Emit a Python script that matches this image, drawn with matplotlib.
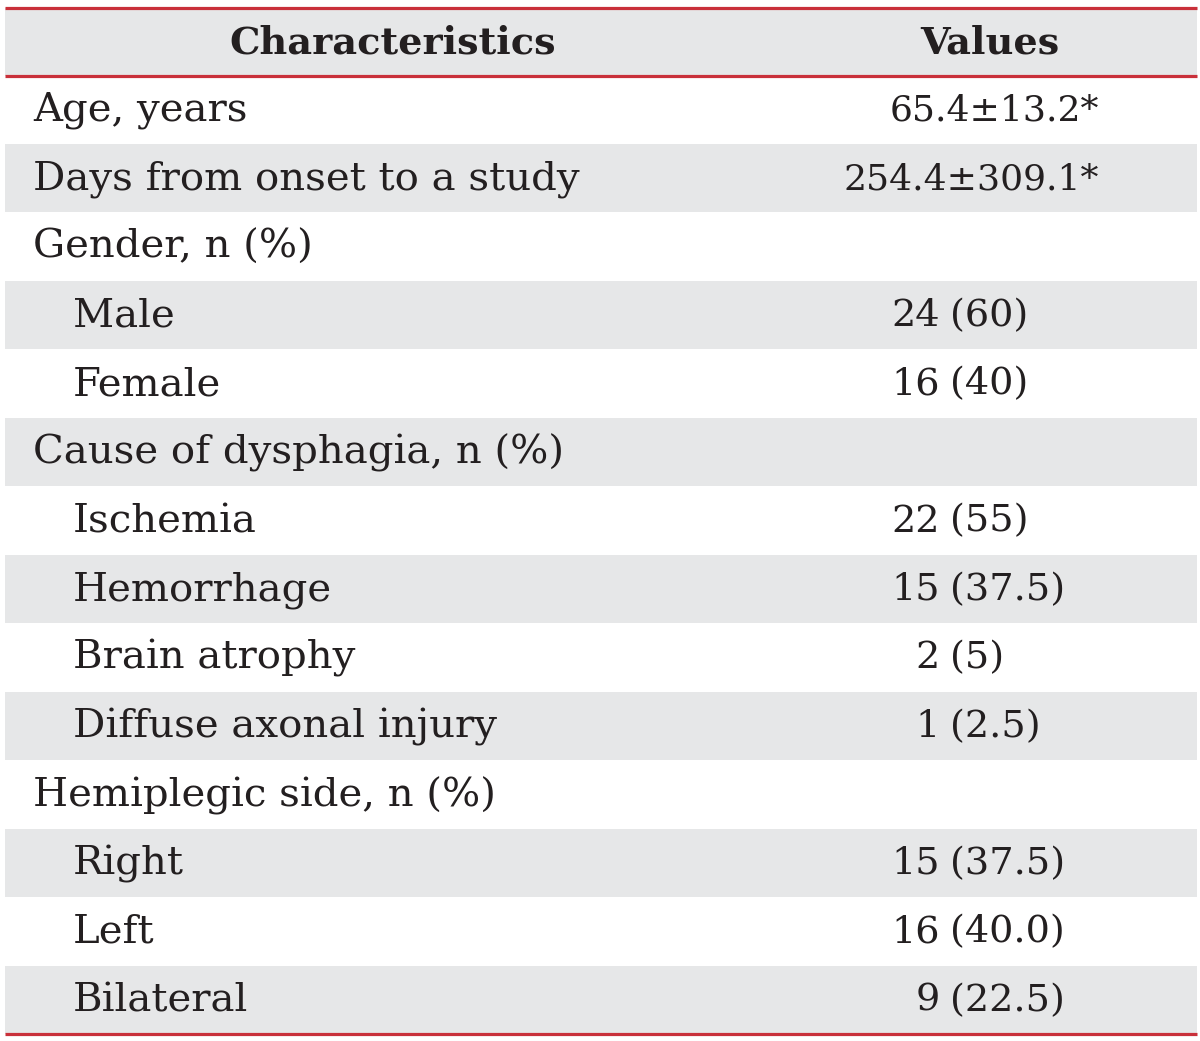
import matplotlib.pyplot as plt
from matplotlib.patches import Rectangle

# table content
headers = ["Characteristics", "Values"]
labels = ["Age, years", "Days from onset to a study", "Gender, n (%)", "Male", "Female",
          "Cause of dysphagia, n (%)", "Ischemia", "Hemorrhage", "Brain atrophy",
          "Diffuse axonal injury", "Hemiplegic side, n (%)", "Right", "Left", "Bilateral"]
indent = [0, 0, 0, 1, 1, 0, 1, 1, 1, 1, 0, 1, 1, 1]
counts = ["65.4±13.2*", "254.4±309.1*", "", "24", "16", "", "22", "15", "2", "1", "", "15", "16", "9"]
percents = ["", "", "", "(60)", "(40)", "", "(55)", "(37.5)", "(5)", "(2.5)", "", "(37.5)", "(40.0)", "(22.5)"]

W, H = 1200, 1041
grey = "#e6e7e8"
red = "#c9303a"
ink = "#231f20"
font = "DejaVu Serif"

fig = plt.figure(figsize=(W / 100, H / 100), dpi=100)
ax = fig.add_axes([0, 0, 1, 1])
ax.set_xlim(0, W)
ax.set_ylim(H, 0)
ax.axis("off")

x0, x1 = 5, 1197
top, head_bot, bottom = 8, 75.5, 1034
row_h = (bottom - head_bot) / len(labels)

# header
ax.add_patch(Rectangle((x0, top), x1 - x0, head_bot - top, color=grey, lw=0))
ax.text(393, (top + head_bot) / 2 + 1, headers[0], fontsize=27.5, fontweight="bold",
        family=font, ha="center", va="center", color=ink)
ax.text(990, (top + head_bot) / 2 + 1, headers[1], fontsize=27.5, fontweight="bold",
        family=font, ha="center", va="center", color=ink)

for i, lab in enumerate(labels):
    y0 = head_bot + i * row_h
    yc = y0 + row_h / 2 + 1
    if i % 2 == 1:
        ax.add_patch(Rectangle((x0, y0), x1 - x0, row_h, color=grey, lw=0))
    ax.text(33 + 40 * indent[i], yc, lab, fontsize=29, family=font,
            ha="left", va="center", color=ink)
    if percents[i]:
        ax.text(940, yc, counts[i], fontsize=27.5, family=font, ha="right", va="center", color=ink)
        ax.text(950, yc, percents[i], fontsize=27.5, family=font, ha="left", va="center", color=ink)
    elif counts[i]:
        ax.text(1099, yc, counts[i], fontsize=26, family=font, ha="right", va="center", color=ink)

for y in [top, head_bot, bottom]:
    ax.plot([x0, x1], [y, y], color=red, lw=2.3, solid_capstyle="butt")

fig.savefig("out.png", dpi=100)
